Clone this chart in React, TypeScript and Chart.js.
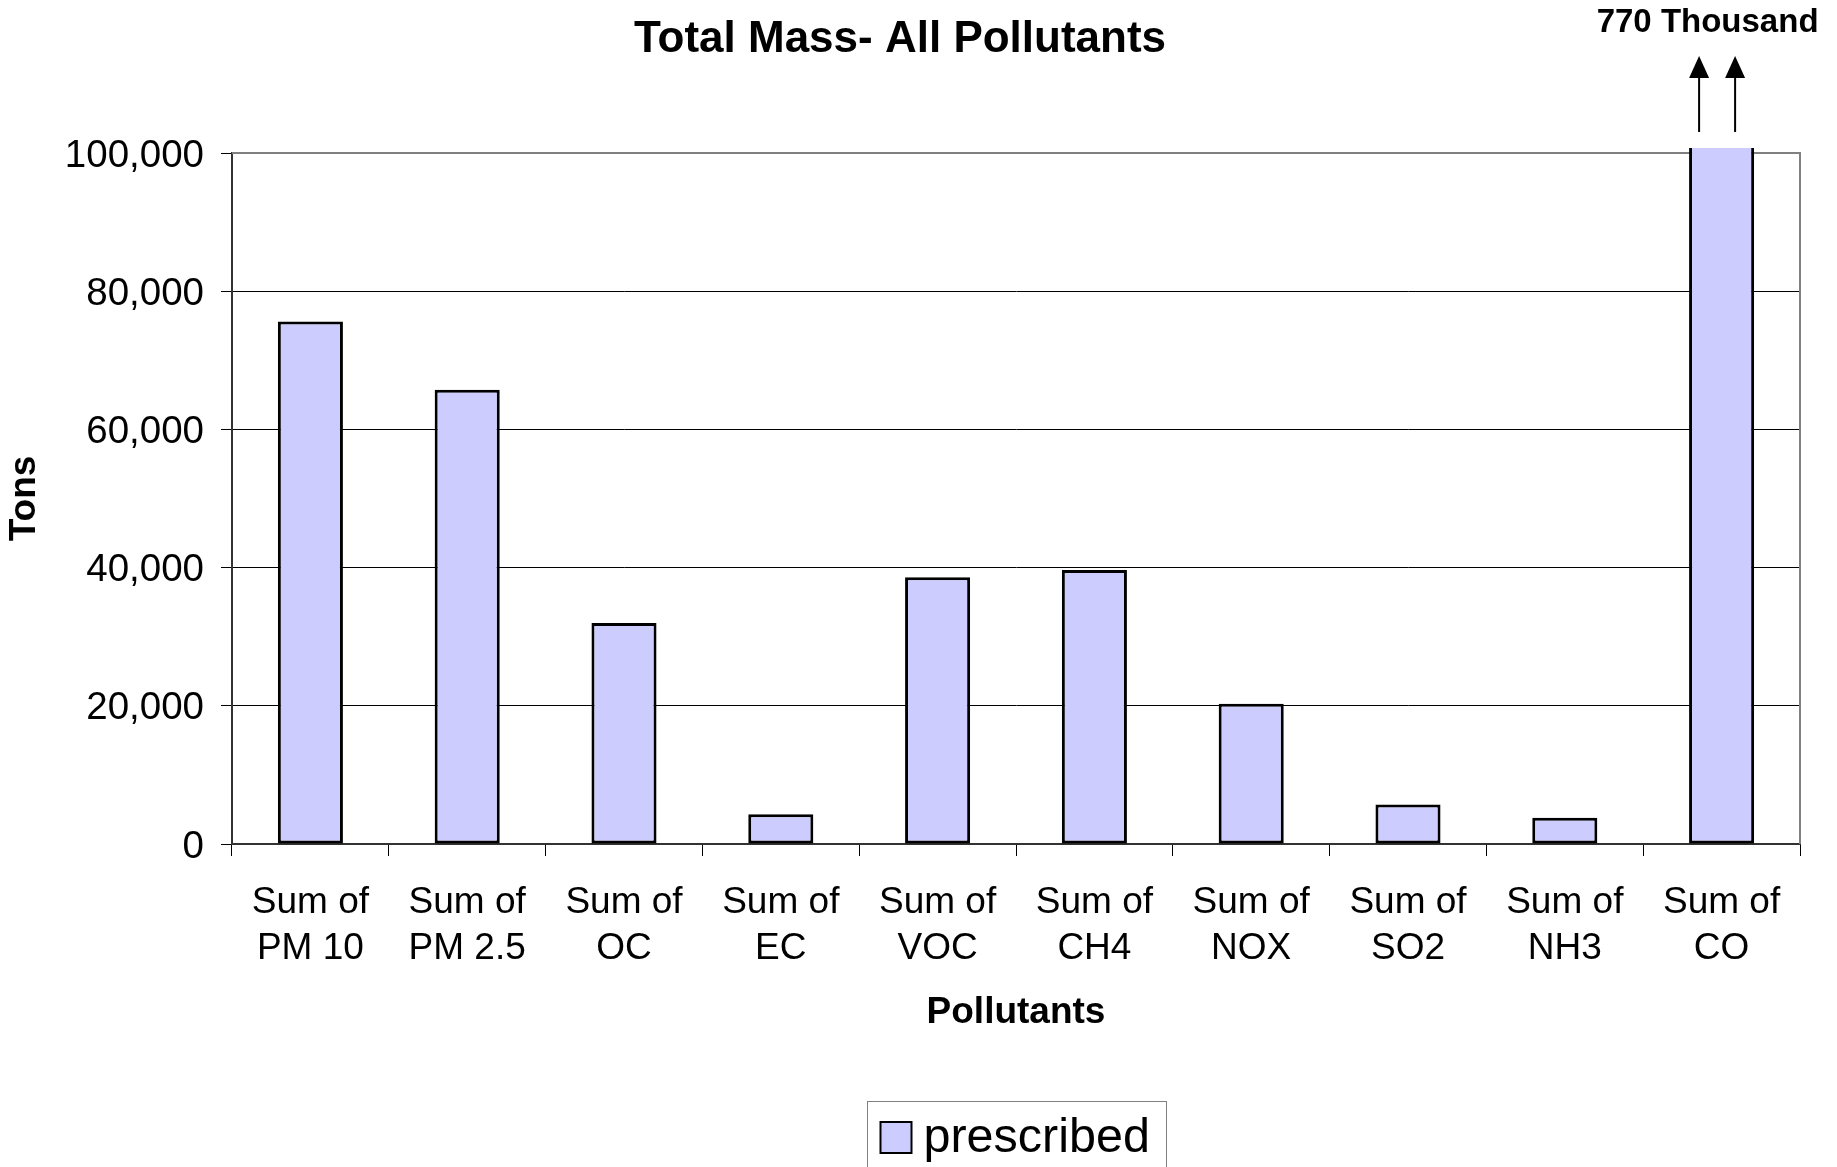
import React, { useEffect, useRef } from "react";
import { Chart, registerables } from "chart.js";

Chart.register(...registerables);

const categories: string[][] = [
  ["Sum of", "PM 10"],
  ["Sum of", "PM 2.5"],
  ["Sum of", "OC"],
  ["Sum of", "EC"],
  ["Sum of", "VOC"],
  ["Sum of", "CH4"],
  ["Sum of", "NOX"],
  ["Sum of", "SO2"],
  ["Sum of", "NH3"],
  ["Sum of", "CO"],
];
const prescribed: number[] = [75600, 65750, 32000, 4300, 38600, 39650, 20300, 5700, 3800, 770000];
const yTicks: number[] = [0, 20000, 40000, 60000, 80000, 100000];
const seriesLabel = "prescribed";
const titleText = "Total Mass- All Pollutants";
const offScaleNote = "770 Thousand";
const xTitle = "Pollutants";
const yTitle = "Tons";

const FONT = '"Liberation Sans", Arial, Helvetica, sans-serif';
const BAR_FILL = "#CCCCFF";

const decorPlugin = {
  id: "decor",
  beforeDatasetsDraw(chart: any) {
    const { ctx, chartArea: a } = chart;
    ctx.save();
    ctx.strokeStyle = "#808080";
    ctx.lineWidth = 2;
    ctx.beginPath();
    ctx.moveTo(a.left, a.top);
    ctx.lineTo(a.right, a.top);
    ctx.lineTo(a.right, a.bottom);
    ctx.stroke();
    ctx.restore();
  },
  afterDraw(chart: any) {
    const { ctx, chartArea: a } = chart;
    const meta = chart.getDatasetMeta(0);
    const bar = meta.data[prescribed.length - 1];
    ctx.save();
    // arrows above the off-scale bar
    const arrowXs = [bar.x - 22.5, bar.x + 13.5];
    ctx.strokeStyle = "#000";
    ctx.fillStyle = "#000";
    ctx.lineWidth = 2;
    for (const x of arrowXs) {
      ctx.beginPath();
      ctx.moveTo(x, a.top - 21);
      ctx.lineTo(x, 76);
      ctx.stroke();
      ctx.beginPath();
      ctx.moveTo(x, 56);
      ctx.lineTo(x - 10, 78);
      ctx.lineTo(x + 10, 78);
      ctx.closePath();
      ctx.fill();
    }
    ctx.font = `bold 33px ${FONT}`;
    ctx.textAlign = "center";
    ctx.textBaseline = "alphabetic";
    ctx.fillText(offScaleNote, bar.x - 14, 32);

    // legend
    const cx = (a.left + a.right) / 2;
    const w = 299;
    const left = cx - w / 2;
    const top = 1101.5;
    ctx.strokeStyle = "#808080";
    ctx.lineWidth = 1;
    ctx.strokeRect(Math.round(left) + 0.5, top, w, 120);
    ctx.fillStyle = BAR_FILL;
    ctx.fillRect(left + 14, 1122, 31, 31);
    ctx.strokeStyle = "#000";
    ctx.lineWidth = 2;
    ctx.strokeRect(left + 14, 1122, 31, 31);
    ctx.fillStyle = "#000";
    ctx.font = `48.5px ${FONT}`;
    ctx.textAlign = "left";
    ctx.fillText(seriesLabel, left + 57, 1152);
    ctx.restore();
  },
};

export default function App() {
  const ref = useRef<HTMLCanvasElement | null>(null);
  useEffect(() => {
    if (!ref.current) return;
    Chart.defaults.font.family = FONT;
    Chart.defaults.color = "#000";
    const chart = new Chart(ref.current, {
      type: "bar",
      data: {
        labels: categories,
        datasets: [
          {
            label: seriesLabel,
            data: prescribed,
            backgroundColor: BAR_FILL,
            borderColor: "#000",
            borderWidth: 3,
            borderSkipped: false,
            barPercentage: 0.415,
            categoryPercentage: 1,
            clip: { left: false, top: 5, right: false, bottom: false },
          } as any,
        ],
      },
      options: {
        animation: false,
        responsive: false,
        devicePixelRatio: 1,
        layout: { padding: { left: 0, right: 37, top: 0, bottom: 132 } },
        plugins: {
          legend: { display: false },
          tooltip: { enabled: false },
          title: {
            display: true,
            text: titleText,
            font: { size: 44, weight: "bold", family: FONT, lineHeight: 1.2 },
            color: "#000",
            padding: { top: 13, bottom: 87.2 },
          },
        },
        scales: {
          x: {
            grid: {
              display: true,
              drawOnChartArea: false,
              drawTicks: true,
              tickLength: 12,
              tickColor: "#000",
              offset: true,
            },
            border: { display: true, color: "#333", width: 2 },
            ticks: {
              autoSkip: false,
              maxRotation: 0,
              minRotation: 0,
              padding: 23.5,
              font: { size: 37, family: FONT, lineHeight: 1.24 },
              color: "#000",
            },
            title: {
              display: true,
              text: xTitle,
              font: { size: 37, weight: "bold", family: FONT, lineHeight: 1.2 },
              color: "#000",
              padding: { top: 0, bottom: 0 },
            },
            afterFit: (scale: any) => {
              scale.height = 191;
            },
          },
          y: {
            min: 0,
            max: 100000,
            grid: {
              color: "#000",
              lineWidth: 1,
              drawTicks: true,
              tickLength: 11,
              tickColor: "#000",
            },
            border: { display: true, color: "#333", width: 2 },
            afterBuildTicks: (scale: any) => {
              scale.ticks = yTicks.map((v) => ({ value: v }));
            },
            ticks: {
              padding: 17,
              labelOffset: 3,
              font: { size: 38.5, family: FONT },
              color: "#000",
              callback: (v: any) => Number(v).toLocaleString("en-US"),
            },
            title: {
              display: true,
              text: yTitle,
              font: { size: 37, weight: "bold", family: FONT, lineHeight: 1.2 },
              color: "#000",
              padding: { top: 3, bottom: 0 },
            },
            afterFit: (scale: any) => {
              scale.width = 232;
            },
          },
        },
      },
      plugins: [decorPlugin],
    });
    return () => chart.destroy();
  }, []);
  return (
    <div style={{ position: "absolute", left: 0, top: 0, width: 1837, height: 1167, background: "#fff" }}>
      <canvas ref={ref} width={1837} height={1167} style={{ display: "block" }} />
    </div>
  );
}
